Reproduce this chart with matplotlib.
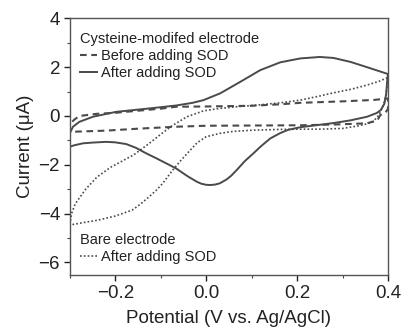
import matplotlib
matplotlib.use("Agg")
import matplotlib.pyplot as plt
from matplotlib.lines import Line2D
from matplotlib.ticker import MultipleLocator

plt.rcParams['font.family'] = ['Liberation Sans', 'DejaVu Sans']

# Cysteine-modified electrode, after adding SOD (solid)
sol_fwd_v = [-0.3, -0.3, -0.293, -0.279, -0.249, -0.198, -0.125, -0.066, -0.03, -0.006, 0.031,
             0.075, 0.119, 0.163, 0.207, 0.25, 0.28, 0.317, 0.354, 0.4]
sol_fwd_i = [-1.26, -0.71, -0.44, -0.24, -0.03, 0.17, 0.31, 0.43, 0.54, 0.65, 0.93,
             1.4, 1.88, 2.2, 2.36, 2.42, 2.38, 2.22, 2.0, 1.72]
sol_rev_v = [0.4, 0.398, 0.396, 0.392, 0.384, 0.375, 0.354, 0.317, 0.28, 0.25, 0.207, 0.18,
             0.163, 0.141, 0.12, 0.104, 0.085, 0.068, 0.055, 0.045, 0.03, 0.02, 0.009, 0.0,
             -0.01, -0.02, -0.04, -0.066, -0.088, -0.11, -0.132, -0.155, -0.176, -0.2,
             -0.22, -0.25, -0.271, -0.29, -0.3]
sol_rev_i = [1.72, 1.4, 0.9, 0.5, 0.24, 0.12, -0.03, -0.18, -0.29, -0.36, -0.46, -0.57,
             -0.7, -0.92, -1.25, -1.53, -1.85, -2.2, -2.45, -2.6, -2.76, -2.81, -2.83, -2.82,
             -2.78, -2.7, -2.48, -2.15, -1.94, -1.73, -1.53, -1.3, -1.15, -1.08,
             -1.06, -1.09, -1.12, -1.2, -1.26]

# Cysteine-modified electrode, before adding SOD (dashed)
das_fwd_v = [-0.3, -0.3, -0.29, -0.279, -0.24, -0.2, -0.16, -0.1, -0.066, 0.0, 0.1, 0.163,
             0.207, 0.3, 0.37, 0.4]
das_fwd_i = [-0.65, -0.33, -0.15, 0.0, 0.09, 0.13, 0.2, 0.3, 0.38, 0.39, 0.42, 0.48,
             0.54, 0.6, 0.66, 0.72]
das_rev_v = [0.4, 0.4, 0.395, 0.383, 0.377, 0.354, 0.28, 0.207, 0.1, 0.0, -0.066, -0.15,
             -0.22, -0.3]
das_rev_i = [0.72, 0.3, 0.15, 0.04, -0.17, -0.3, -0.35, -0.38, -0.39, -0.4, -0.44, -0.52,
             -0.6, -0.65]

# Bare electrode, after adding SOD (dotted)
dot_fwd_v = [-0.3, -0.296, -0.288, -0.265, -0.24, -0.21, -0.18, -0.16, -0.125, -0.1, -0.075,
             -0.042, -0.006, 0.03, 0.068, 0.12, 0.163, 0.207, 0.25, 0.28, 0.32, 0.354, 0.38, 0.4]
dot_fwd_i = [-4.45, -4.0, -3.6, -3.0, -2.5, -2.1, -1.8, -1.6, -1.12, -0.75, -0.4,
             -0.03, 0.21, 0.31, 0.38, 0.46, 0.54, 0.65, 0.82, 0.95, 1.1, 1.27, 1.42, 1.58]
dot_rev_v = [0.4, 0.398, 0.394, 0.388, 0.38, 0.367, 0.35, 0.333, 0.3, 0.25, 0.2, 0.163,
             0.104, 0.06, 0.031, 0.0, -0.02, -0.035, -0.057, -0.075, -0.095, -0.11, -0.128,
             -0.145, -0.163, -0.2, -0.238, -0.27, -0.3]
dot_rev_i = [1.58, 1.2, 0.7, 0.38, 0.04, -0.24, -0.34, -0.41, -0.51, -0.54, -0.54, -0.55,
             -0.58, -0.63, -0.71, -0.85, -1.1, -1.4, -1.85, -2.25, -2.75, -3.05, -3.35,
             -3.62, -3.86, -4.1, -4.27, -4.37, -4.47]

x_ticks = [-0.2, 0.0, 0.2, 0.4]
x_ticklabels = ['\u22120.2', '0.0', '0.2', '0.4']
y_ticks = [-6, -4, -2, 0, 2, 4]
y_ticklabels = ['\u22126', '\u22124', '\u22122', '0', '2', '4']

col = '#4a4a4a'
fig = plt.figure(figsize=(4.01, 3.29), dpi=100)
ax = fig.add_axes([0.174, 0.164, 0.7936, 0.780])

ax.plot(das_fwd_v + das_rev_v, das_fwd_i + das_rev_i, color=col, lw=1.5,
        linestyle=(0, (3.2, 2.2)))
ax.plot(dot_fwd_v + dot_rev_v, dot_fwd_i + dot_rev_i, color=col, lw=1.2,
        linestyle=(0, (1, 1.3)))
ax.plot(sol_fwd_v + sol_rev_v, sol_fwd_i + sol_rev_i, color=col, lw=1.4)

ax.set_xlim(-0.3, 0.4)
ax.set_ylim(-6.52, 4)
ax.set_xticks(x_ticks)
ax.set_xticklabels(x_ticklabels)
ax.set_yticks(y_ticks)
ax.set_yticklabels(y_ticklabels)
ax.xaxis.set_minor_locator(MultipleLocator(0.1))
ax.yaxis.set_minor_locator(MultipleLocator(1))
ax.tick_params(which='major', direction='out', length=4, width=1, labelsize=13.5,
               colors='#222222', pad=3)
ax.tick_params(which='minor', direction='out', length=2.5, width=0.8, colors='#444444')
for s in ax.spines.values():
    s.set_color('#555555')
    s.set_linewidth(1)

ax.set_xlabel('Potential (V vs. Ag/AgCl)', fontsize=13.5, color='#222222', labelpad=6)
ax.set_ylabel('Current (\u03bcA)', fontsize=13.5, color='#222222', labelpad=3)

h1 = [Line2D([], [], color=col, lw=1.5, linestyle=(0, (3.2, 2.2))),
      Line2D([], [], color=col, lw=1.4)]
leg1 = ax.legend(h1, ['Before adding SOD', 'After adding SOD'],
                 title='Cysteine-modifed electrode', loc='upper left',
                 bbox_to_anchor=(0.0, 0.985), frameon=False, fontsize=10.5,
                 title_fontsize=10.5, alignment='left', handlelength=1.15,
                 handletextpad=0.3, labelspacing=0.2, borderaxespad=0.3,
                 borderpad=0.4)
for t in leg1.get_texts():
    t.set_color('#222222')
leg1.get_title().set_color('#222222')
ax.add_artist(leg1)

h2 = [Line2D([], [], color=col, lw=1.2, linestyle=(0, (1, 1.3)))]
leg2 = ax.legend(h2, ['After adding SOD'], title='Bare electrode', loc='lower left',
                 bbox_to_anchor=(0.0, 0.004), frameon=False, fontsize=10.5,
                 title_fontsize=10.5, alignment='left', handlelength=1.15,
                 handletextpad=0.3, labelspacing=0.2, borderaxespad=0.3,
                 borderpad=0.4)
for t in leg2.get_texts():
    t.set_color('#222222')
leg2.get_title().set_color('#222222')

fig.savefig('out.png', dpi=100)
